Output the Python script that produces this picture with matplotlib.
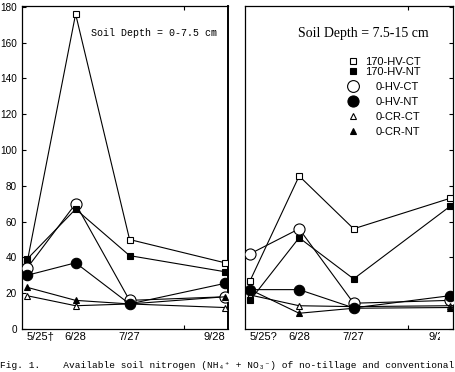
import matplotlib
matplotlib.use("Agg")
import matplotlib.pyplot as plt
from matplotlib.lines import Line2D
from matplotlib.transforms import Bbox, TransformedBbox

# sampling dates (position along the hand-drawn time axis)
sample_pos = [0, 27, 57, 110]
left_dates = ["5/25\u2020", "6/28", "7/27", "9/28"]
right_dates = ["5/25?", "6/28", "7/27", "9/28"]
month_ticks = [27, 57, 87]
y_ticks = [0, 20, 40, 60, 80, 100, 120, 140, 160, 180]

treatments = ["170-HV-CT", "170-HV-NT", "0-HV-CT", "0-HV-NT", "0-CR-CT", "0-CR-NT"]

# available soil N, depth 0-7.5 cm
top_170_hv_ct = [37, 176, 50, 37]
top_170_hv_nt = [39, 67, 41, 32]
top_0_hv_ct = [34, 70, 16, 18]
top_0_hv_nt = [30, 37, 14, 25.5]
top_0_cr_ct = [18.6, 13, 14, 12]
top_0_cr_nt = [23.3, 16, 14, 18]

# available soil N, depth 7.5-15 cm
sub_170_hv_ct = [27, 85.5, 56, 73]
sub_170_hv_nt = [16, 51, 28, 68.5]
sub_0_hv_ct = [42, 56, 14.4, 16]
sub_0_hv_nt = [22, 22, 11.8, 18.6]
sub_0_cr_ct = [19, 13, 12.5, 13]
sub_0_cr_nt = [22, 8.8, 11.6, 12]

top_data = [top_170_hv_ct, top_170_hv_nt, top_0_hv_ct, top_0_hv_nt, top_0_cr_ct, top_0_cr_nt]
sub_data = [sub_170_hv_ct, sub_170_hv_nt, sub_0_hv_ct, sub_0_hv_nt, sub_0_cr_ct, sub_0_cr_nt]

# marker, filled?, size
styles = {
    "170-HV-CT": ("s", False, 4),
    "170-HV-NT": ("s", True, 4),
    "0-HV-CT": ("o", False, 8),
    "0-HV-NT": ("o", True, 7.5),
    "0-CR-CT": ("^", False, 4.5),
    "0-CR-NT": ("^", True, 4.5),
}

tick_font = "Liberation Sans"

W, H = 455, 372
fig = plt.figure(figsize=(W / 100, H / 100), dpi=100)
ax1 = fig.add_axes([22 / W, (H - 329) / H, 206 / W, 323 / H])
ax2 = fig.add_axes([245 / W, (H - 329) / H, 208 / W, 323 / H])


def draw_panel(ax, data):
    for name, vals in zip(treatments, data):
        m, filled, ms = styles[name]
        ax.plot(sample_pos, vals, color="black", lw=0.8, marker=m, ms=ms,
                mfc="black" if filled else "white", mec="black", mew=0.8,
                zorder=4 if filled else 3)
    ax.set_xlim(-2.8, 111.7)
    ax.set_ylim(0, 180.5)
    for s in ax.spines.values():
        s.set_linewidth(0.9)
    ax.set_xticks(sample_pos)
    ax.set_xticks(month_ticks, minor=True)
    ax.tick_params(axis="x", which="major", length=0, pad=2.5, labelsize=8)
    ax.tick_params(axis="x", which="minor", direction="in", length=3,
                   top=True, bottom=True, width=0.8)


draw_panel(ax1, top_data)
draw_panel(ax2, sub_data)

ax1.set_xticklabels(left_dates, fontfamily=tick_font)
ax2.set_xticklabels(right_dates, fontfamily=tick_font)
for ax in (ax1, ax2):
    labs = ax.get_xticklabels()
    labs[0].set_horizontalalignment("left")
    labs[-1].set_horizontalalignment("right")

ax1.set_yticks(y_ticks)
ax1.set_yticklabels([str(v) for v in y_ticks], fontfamily=tick_font)
ax1.tick_params(axis="y", direction="in", length=3, pad=3.5, labelsize=7.2, width=0.8)
ax1.spines["right"].set_linewidth(1.4)

ax2.set_yticks(y_ticks)
ax2.tick_params(axis="y", direction="in", length=3, left=False, right=True,
                labelleft=False, width=0.8)

# trim the last date labels as they are cut in the scan
lab = ax1.get_xticklabels()[-1]
lab.set_clip_box(TransformedBbox(Bbox([[0, 0], [229 / W, 1]]), fig.transFigure))
lab.set_clip_on(True)
lab = ax2.get_xticklabels()[-1]
lab.set_clip_box(TransformedBbox(Bbox([[0, 0], [440 / W, 1]]), fig.transFigure))
lab.set_clip_on(True)

ax1.text(0.335, 0.916, "Soil Depth = 0-7.5 cm", transform=ax1.transAxes,
         family="Liberation Mono", fontsize=7.2, va="center", ha="left")
ax2.text(0.255, 0.916, "Soil Depth = 7.5-15 cm", transform=ax2.transAxes,
         family="Liberation Serif", fontsize=10, va="center", ha="left")

# legend in two groups (different spacing / indent in the original)
handles = []
for name in treatments:
    m, filled, ms = styles[name]
    handles.append(Line2D([], [], ls="none", marker=m, ms=ms + 0.5,
                          mfc="black" if filled else "white", mec="black", mew=0.8))

leg1 = ax2.legend(handles[:2], treatments[:2], loc="upper left",
                  bbox_to_anchor=(0.493, 0.842), frameon=False, borderpad=0,
                  borderaxespad=0, handlelength=1.0, handletextpad=0.6,
                  labelspacing=0.0, prop={"family": tick_font, "size": 8})
ax2.add_artist(leg1)
ax2.legend(handles[2:], treatments[2:], loc="upper left",
           bbox_to_anchor=(0.493, 0.765), frameon=False, borderpad=0,
           borderaxespad=0, handlelength=1.0, handletextpad=1.5,
           labelspacing=0.45, prop={"family": tick_font, "size": 8})

fig.text(0.0, 1.5 / H,
         "Fig. 1.    Available soil nitrogen (NH\u2084\u207a + NO\u2083\u207b) of no-tillage and conventional",
         family=["Liberation Mono", "DejaVu Sans Mono"], fontsize=6.8, va="bottom", ha="left")

fig.savefig("out.png", dpi=100)
